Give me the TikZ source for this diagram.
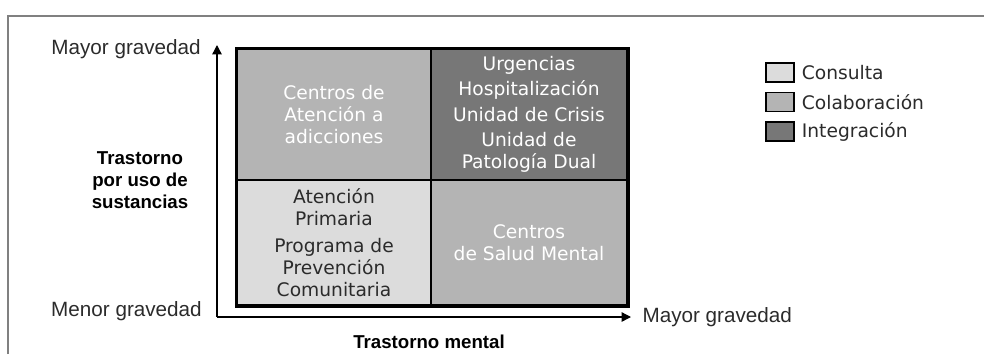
\documentclass[tikz,border=0pt]{standalone}
\usepackage{fontspec}
\setmainfont{DejaVu Sans}
\newfontfamily\axisfont{Liberation Sans}
\usetikzlibrary{arrows.meta}
\usetikzlibrary{positioning}
\definecolor{consulta}{HTML}{DCDCDC}
\definecolor{colabora}{HTML}{B4B4B4}
\definecolor{integra}{HTML}{777777}
\definecolor{marco}{HTML}{808080}
\definecolor{tinta}{HTML}{2B2B2B}

\begin{document}
\begin{tikzpicture}[x=0.75pt,y=-0.75pt]
	\tikzstyle{cell}=[rectangle,draw=black,line width=1.5pt,inner sep=0pt,align=center,font=\fontsize{14}{16.5}\selectfont]
	\tikzstyle{gravedad}=[font=\axisfont\fontsize{15.5}{18}\selectfont,text=tinta,inner sep=0pt]
	\tikzstyle{eje}=[font=\axisfont\bfseries\fontsize{14}{16.5}\selectfont,text=black,align=center,inner sep=0pt]
	\tikzstyle{leyenda}=[rectangle,draw=black,line width=0.9pt,minimum width=21pt,minimum height=14.25pt,inner sep=0pt]
	\tikzstyle{flecha}=[line width=1pt,-{Triangle[length=7pt,width=7pt]}]

	\useasboundingbox (0,0) rectangle (984,354);
	\draw[marco,line width=1.2pt] (8,354) -- (8,16) -- (984,16);

	% cuadrantes
	\node[cell,fill=colabora,text=white,minimum width=145.5pt,minimum height=98.25pt] (adicciones) at (334,114.5)
		{Centros de\\Atención a\\adicciones};
	\node[cell,fill=integra,text=white,minimum width=147pt,minimum height=98.25pt] (urgencias) at (529,114.5)
		{Urgencias\\[2.5pt]Hospitalización\\[2.5pt]Unidad de Crisis\\[2.5pt]Unidad de\\Patología Dual};
	\node[cell,fill=consulta,text=tinta,minimum width=145.5pt,minimum height=93.75pt] (primaria) at (334,242.5)
		{Atención\\Primaria\\[3.5pt]Programa de\\Prevención\\Comunitaria};
	\node[cell,fill=colabora,text=white,minimum width=147pt,minimum height=93.75pt] (saludmental) at (529,242.5)
		{Centros\\de Salud Mental};
	\draw[line width=2.25pt] (adicciones.north west) rectangle (saludmental.south east);

	% ejes
	\coordinate (origen) at (217,317);
	\coordinate (ytope) at (217,45);
	\coordinate (xtope) at (631,317);
	\draw[flecha] (origen) -- (ytope);
	\draw[flecha] (origen) -- (xtope);

	\node[gravedad,anchor=east] (ymayor) at (201,49) {Mayor gravedad};
	\node[gravedad,anchor=east] (ymenor) at (202,311) {Menor gravedad};
	\node[gravedad,right=8.5pt of xtope] (xmayor) {Mayor gravedad};
	\node[eje] (sustancias) at (140,180) {Trastorno\\por uso de\\sustancias};
	\node[eje] (mental) at (429,342) {Trastorno mental};

	% leyenda
	\node[leyenda,fill=consulta] (lconsulta) at (780,72.5) {};
	\node[leyenda,fill=colabora] (lcolabora) at (780,102) {};
	\node[leyenda,fill=integra] (lintegra) at (780,131.5) {};
	\node[right=5.25pt of lconsulta,inner sep=0pt,text=tinta,font=\fontsize{14}{16}\selectfont] {Consulta};
	\node[right=5.25pt of lcolabora,inner sep=0pt,text=tinta,font=\fontsize{14}{16}\selectfont] {Colaboración};
	\node[right=5.25pt of lintegra,inner sep=0pt,text=tinta,font=\fontsize{14}{16}\selectfont] {Integración};
\end{tikzpicture}
\end{document}
